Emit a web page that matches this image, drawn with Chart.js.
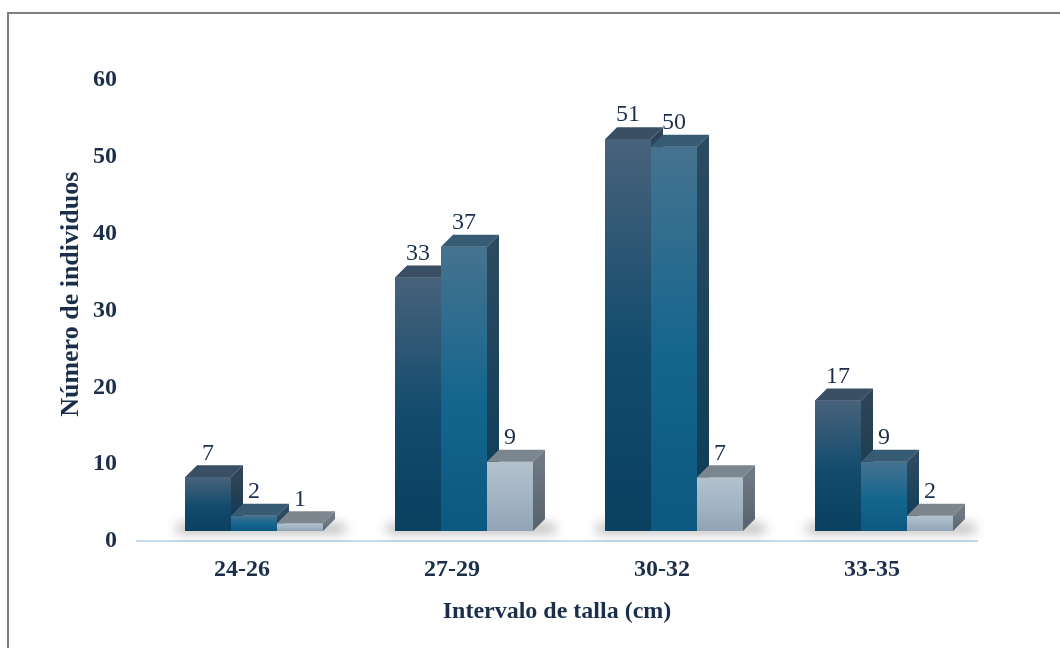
<!DOCTYPE html>
<html>
<head>
<meta charset="utf-8">
<script src="https://cdn.jsdelivr.net/npm/chart.js@4.4.1/dist/chart.umd.min.js"></script>
<style>
  html, body { margin: 0; background: #fff; }
  #wrap { position: relative; width: 1060px; height: 648px; overflow: hidden; }
  #wrap canvas { position: absolute; left: 0; top: 0; }
  .frame { position: absolute; left: 7px; top: 12px; width: 1080px; height: 680px; border: 2px solid #7f7f7f; }
</style>
</head>
<body>
<div id="wrap">
  <canvas id="chart" width="1060" height="648"></canvas>
  <div class="frame"></div>
</div>
<script>
// data
const categories = ['24-26', '27-29', '30-32', '33-35'];
const serie1 = [7, 33, 51, 17];
const serie2 = [2, 37, 50, 9];
const serie3 = [1, 9, 7, 2];
const yTicks = [0, 10, 20, 30, 40, 50, 60];

const TEXT = '#1b2f4a';
const FONT = '"Liberation Serif", "Times New Roman", serif';

// bars sit a bit up/right of the axis, depth goes back up-right
const SHIFT = { x: 12, y: -10 };
const DEPTH = { x: 12, y: -12 };

const faces = [
  { front: ['#48627b', '#114b6d', '#0a4060'], top: '#3a4f63', side: ['#2f4457', '#0b3650'] },
  { front: ['#45738f', '#14658e', '#0c5880'], top: '#385b74', side: ['#2c4a60', '#0a3c57'] },
  { front: ['#b3c1cd', '#a2b3c2', '#91a3b4'], top: '#7c868f', side: ['#6d7883', '#56626d'] }
];

function frontFill(i) {
  return (c) => {
    const chart = c.chart;
    if (!chart.chartArea || c.type !== 'data') return faces[i].front[1];
    const y = chart.scales.y;
    const top = y.getPixelForValue(c.parsed.y);
    const bot = y.getPixelForValue(0);
    const g = chart.ctx.createLinearGradient(0, top, 0, bot);
    g.addColorStop(0, faces[i].front[0]);
    g.addColorStop(0.55, faces[i].front[1]);
    g.addColorStop(1, faces[i].front[2]);
    return g;
  };
}

function barBox(el) {
  const p = el.getProps(['x', 'y', 'base', 'width'], true);
  return { left: p.x - p.width / 2, right: p.x + p.width / 2, top: p.y, base: p.base };
}

const bars3d = {
  id: 'bars3d',
  beforeDatasetsDraw(chart) {
    const ctx = chart.ctx;
    ctx.save();
    ctx.translate(SHIFT.x, SHIFT.y);
    // soft floor shadow under each group
    const first = chart.getDatasetMeta(0).data;
    const last = chart.getDatasetMeta(2).data;
    ctx.save();
    ctx.filter = 'blur(6px)';
    ctx.fillStyle = 'rgba(0,0,0,0.3)';
    first.forEach((el, k) => {
      const a = barBox(el), b = barBox(last[k]);
      ctx.fillRect(a.left - 8, a.base - 7, b.right + DEPTH.x + 10 - (a.left - 8), 9);
    });
    ctx.restore();
  },
  afterDatasetsDraw(chart) {
    const ctx = chart.ctx;
    // redraw left to right so each bar covers the side of its left neighbour
    const n = chart.data.labels.length;
    for (let k = 0; k < n; k++) {
      chart.data.datasets.forEach((ds, i) => {
        const el = chart.getDatasetMeta(i).data[k];
        const b = barBox(el);
        el.draw(ctx);
        // top face
        ctx.fillStyle = faces[i].top;
        ctx.beginPath();
        ctx.moveTo(b.left, b.top);
        ctx.lineTo(b.left + DEPTH.x, b.top + DEPTH.y);
        ctx.lineTo(b.right + DEPTH.x, b.top + DEPTH.y);
        ctx.lineTo(b.right, b.top);
        ctx.closePath();
        ctx.fill();
        // side face
        const g = ctx.createLinearGradient(0, b.top, 0, b.base);
        g.addColorStop(0, faces[i].side[0]);
        g.addColorStop(1, faces[i].side[1]);
        ctx.fillStyle = g;
        ctx.beginPath();
        ctx.moveTo(b.right, b.top);
        ctx.lineTo(b.right + DEPTH.x, b.top + DEPTH.y);
        ctx.lineTo(b.right + DEPTH.x, b.base + DEPTH.y);
        ctx.lineTo(b.right, b.base);
        ctx.closePath();
        ctx.fill();
      });
    }
    ctx.restore();
  },
  afterDraw(chart) {
    // value labels above each bar
    const ctx = chart.ctx;
    ctx.save();
    ctx.font = '24px ' + FONT;
    ctx.fillStyle = TEXT;
    ctx.textAlign = 'center';
    ctx.textBaseline = 'middle';
    chart.data.datasets.forEach((ds, i) => {
      chart.getDatasetMeta(i).data.forEach((el, k) => {
        ctx.fillText(ds.data[k], el.x + SHIFT.x, el.y + SHIFT.y - 24);
      });
    });
    ctx.restore();
  }
};

const mkSet = (label, data, i) => ({
  label, data,
  backgroundColor: frontFill(i),
  borderWidth: 0,
  categoryPercentage: 0.657,
  barPercentage: 1,
  clip: false
});

new Chart(document.getElementById('chart'), {
  type: 'bar',
  data: {
    labels: categories,
    datasets: [
      mkSet('Serie 1', serie1, 0),
      mkSet('Serie 2', serie2, 1),
      mkSet('Serie 3', serie3, 2)
    ]
  },
  options: {
    responsive: false,
    animation: false,
    devicePixelRatio: 1,
    layout: { padding: { left: 0, right: 83, top: 80, bottom: 0 } },
    plugins: { legend: { display: false }, tooltip: { enabled: false } },
    scales: {
      x: {
        grid: { display: true, color: 'rgba(0,0,0,0)', drawTicks: false },
        border: { display: true, color: '#c6d9f0', width: 2 },
        ticks: { color: TEXT, padding: 14, font: { family: FONT, size: 24, weight: 'bold' } },
        title: {
          display: true, text: 'Intervalo de talla (cm)', color: TEXT,
          font: { family: FONT, size: 24, weight: 'bold' }, padding: { top: 0, bottom: 22 }
        },
        afterFit(scale) { scale.height = 107; }
      },
      y: {
        min: 0, max: 60,
        grid: { display: false, drawTicks: false },
        border: { display: false },
        afterBuildTicks(scale) { scale.ticks = yTicks.map(v => ({ value: v })); },
        ticks: { color: TEXT, padding: 20, font: { family: FONT, size: 24, weight: 'bold' } },
        title: {
          // leading spaces lift the rotated title a little above the axis centre
          display: true, text: '     Número de individuos', color: TEXT,
          font: { family: FONT, size: 26, weight: 'bold' }, padding: { top: 56, bottom: 0 }
        },
        afterFit(scale) { scale.width = 137; }
      }
    }
  },
  plugins: [bars3d]
});
</script>
</body>
</html>
